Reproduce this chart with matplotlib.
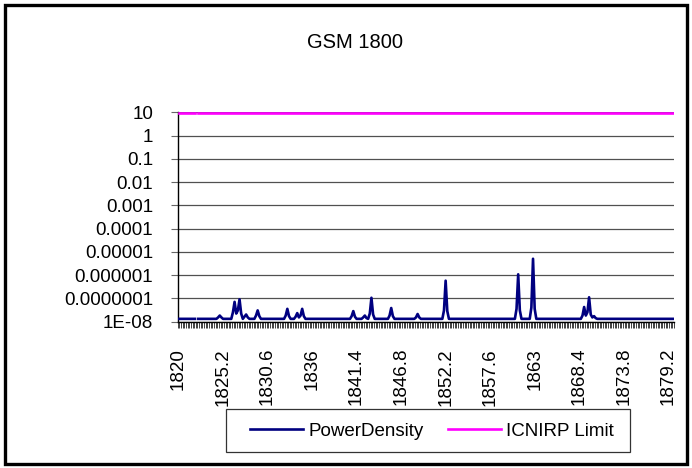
import numpy as np
import matplotlib
matplotlib.use("Agg")
import matplotlib.pyplot as plt
from matplotlib.patches import Rectangle
from matplotlib.ticker import FixedLocator, FixedFormatter

plt.rcParams['font.family'] = ['Liberation Sans', 'DejaVu Sans']

# ---- data ----
title = "GSM 1800"
freq_start = 1820.0
freq_step = 0.2
n_freqs = 300
blank_row = 11                      # empty row in the sheet (gap in both lines)
baseline_level = 1.3e-8             # noise floor
icnirp_level = 9.3                  # ICNIRP limit, W/m^2

peak_index = [24, 25, 26,
              33, 34, 35, 36, 37, 38,
              40, 41, 42,
              47, 48, 49,
              65, 66, 67,
              71, 72, 73,
              74, 75, 76,
              105, 106, 107,
              112, 113, 114,
              116, 117, 118,
              128, 129, 130,
              144, 145, 146,
              161, 162, 163,
              205, 206, 207,
              214, 215, 216,
              245, 246, 247, 248, 249, 250, 251, 252, 253]
peak_value = [1.5e-8, 1.8e-8, 1.5e-8,
              2.5e-8, 7.0e-8, 2.2e-8, 3.0e-8, 9.0e-8, 2.2e-8,
              1.6e-8, 2.0e-8, 1.5e-8,
              1.8e-8, 3.0e-8, 1.7e-8,
              1.8e-8, 3.5e-8, 1.7e-8,
              1.6e-8, 2.3e-8, 1.5e-8,
              1.8e-8, 3.5e-8, 1.7e-8,
              1.7e-8, 2.8e-8, 1.6e-8,
              1.5e-8, 1.8e-8, 1.4e-8,
              2.2e-8, 1.05e-7, 2.0e-8,
              1.8e-8, 3.8e-8, 1.7e-8,
              1.5e-8, 2.1e-8, 1.5e-8,
              3.0e-8, 5.7e-7, 2.8e-8,
              3.5e-8, 1.07e-6, 3.0e-8,
              4.0e-8, 5.0e-6, 3.5e-8,
              1.8e-8, 4.2e-8, 1.8e-8, 2.5e-8, 1.1e-7, 2.0e-8, 1.5e-8, 1.7e-8, 1.4e-8]

y_tick_values = [1e-8, 1e-7, 1e-6, 1e-5, 1e-4, 1e-3, 1e-2, 1e-1, 1, 10]
y_tick_labels = ["1E-08", "0.0000001", "0.000001", "0.00001", "0.0001",
                 "0.001", "0.01", "0.1", "1", "10"]
label_every = 27
series_names = ["PowerDensity", "ICNIRP Limit"]
series_colors = ["#000080", "#FF00FF"]

# ---- build category table ----
categories = []
for k in range(n_freqs):
    f = round(freq_start + k * freq_step, 1)
    categories.append(f"{f:g}")
categories.insert(blank_row, "")
N = len(categories)

power = np.full(N, baseline_level)
for i, v in zip(peak_index, peak_value):
    power[i] = v
power[blank_row] = np.nan
limit = np.full(N, icnirp_level)
limit[blank_row] = np.nan
xs = np.arange(N)

# ---- figure ----
W, H = 692, 468
fig = plt.figure(figsize=(W / 100, H / 100), dpi=100)
fs = 13.5

left, right, top, bottom = 177.7, 674.0, 112.3, 321.5
ax = fig.add_axes([left / W, 1 - bottom / H, (right - left) / W, (bottom - top) / H])

ax.plot(xs, power, color=series_colors[0], lw=1.9, solid_joinstyle='round', zorder=3,
        label=series_names[0])
ax.plot(xs, limit, color=series_colors[1], lw=1.9, zorder=3, label=series_names[1])

ax.set_yscale('log')
ax.set_ylim(1e-8, 10)
ax.set_xlim(-0.5, N - 0.5)

ax.yaxis.set_major_locator(FixedLocator(y_tick_values))
ax.yaxis.set_major_formatter(FixedFormatter(y_tick_labels))
ax.yaxis.set_minor_locator(FixedLocator([]))
ax.tick_params(axis='y', which='major', length=4.7, width=0.8, color='#666666',
               direction='out', pad=13, labelsize=fs)
ax.grid(axis='y', which='major', color='#505050', lw=0.9, zorder=1)

lab_pos = list(range(0, N, label_every))
ax.xaxis.set_major_locator(FixedLocator(lab_pos))
ax.xaxis.set_major_formatter(FixedFormatter([categories[i] for i in lab_pos]))
ax.xaxis.set_minor_locator(FixedLocator(np.arange(N + 1) - 0.5))
ax.tick_params(axis='x', which='major', length=0, pad=19, labelsize=fs, labelrotation=90)
ax.tick_params(axis='x', which='minor', length=4.5, width=0.6, color='#222222', direction='out')
for lbl in ax.get_xticklabels():
    lbl.set_va('top')
    lbl.set_ha('center')

for s in ['top', 'right']:
    ax.spines[s].set_visible(False)
ax.spines['left'].set_color('black')
ax.spines['left'].set_linewidth(1.0)
ax.spines['bottom'].set_color('black')
ax.spines['bottom'].set_linewidth(1.0)
ax.set_axisbelow(True)

fig.text(355 / W, 1 - 42.5 / H, title, ha='center', va='center', fontsize=14.5)

# legend
handles, labels = ax.get_legend_handles_labels()
fig.legend(handles, labels, ncol=2, loc='center',
           bbox_to_anchor=(432 / W, 1 - 431 / H), frameon=False, fontsize=fs,
           handlelength=2.83, handletextpad=0.27, columnspacing=1.28, borderpad=0.2)
fig.patches.append(Rectangle((226 / W, 1 - 452 / H), (630 - 226) / W, (452 - 409) / H,
                             transform=fig.transFigure, fill=False, edgecolor='#333333',
                             lw=0.9))
# chart border
fig.patches.append(Rectangle((5 / W, 1 - 464 / H), (687 - 5) / W, (464 - 5) / H,
                             transform=fig.transFigure, fill=False, edgecolor='black',
                             lw=2.4))

fig.savefig("out.png", dpi=100)
